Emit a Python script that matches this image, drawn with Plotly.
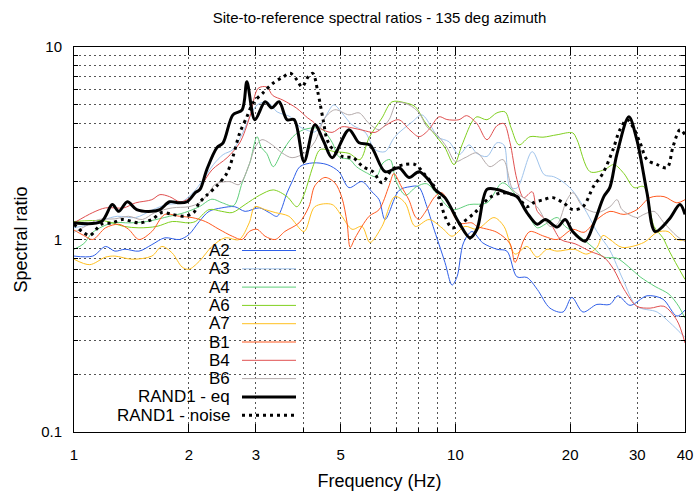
import plotly.graph_objects as go
import math

# ---------------- data (frequency in Hz, spectral ratio) ----------------
A2_f = [1.0,1.12,1.21,1.28,1.36,1.48,1.6,1.73,1.89,2.0,2.13,2.26,2.44,2.64,2.81,3.06,3.25,3.41,3.62,3.75,3.91,4.23,4.61,4.95,5.26,5.69,6.04,6.31,6.54,7.12,7.6,8.0,8.42,8.74,9.39,9.8,10.1,10.5,11.05,11.8,12.85,13.65,14.5,15.4,16.4,17.7,19.15,20.2,21.6,23.5,25.4,26.7,28.7,31.8,35.0,38.1,40]
A2_v = [0.82,0.82,0.92,0.87,0.89,0.87,0.94,1.02,1.0,1.06,1.24,1.40,1.46,1.48,1.40,1.46,1.38,1.32,1.75,2.04,2.39,2.5,2.45,2.25,1.86,2.0,1.77,1.61,1.27,1.8,1.88,1.88,1.48,1.17,0.76,0.58,0.64,0.96,1.1,0.96,0.89,0.87,0.64,0.635,0.55,0.44,0.42,0.50,0.42,0.46,0.46,0.51,0.455,0.51,0.49,0.40,0.43]

A3_f = [1.0,1.1,1.2,1.3,1.45,1.6,1.75,1.9,2.05,2.18,2.32,2.46,2.61,2.77,2.89,3.02,3.21,3.41,3.69,3.91,4.08,4.28,4.55,4.8,5.04,5.36,5.79,6.16,6.54,6.94,7.7,8.17,8.68,9.0,9.62,10.22,10.86,11.39,12.1,12.85,13.4,13.9,14.5,15.9,17.1,18.1,19.3,20.5,22.1,23.5,25.4,27.5,29.9,33.8,36.5,40]
A3_v = [1.15,1.2,1.27,1.32,1.3,1.42,1.52,1.55,1.75,2.04,2.45,2.76,2.93,3.58,4.34,5.0,5.19,4.6,4.34,3.85,3.7,3.62,4.3,5.0,4.55,3.94,3.62,2.93,2.86,3.42,4.08,4.44,3.8,3.4,3.22,2.76,3.1,2.8,2.7,3.18,3.1,1.88,1.85,2.86,2.17,2.12,1.97,1.75,1.38,1.1,0.88,0.62,0.45,0.42,0.37,0.31]

A4_f = [1.0,1.06,1.12,1.26,1.4,1.55,1.78,1.95,2.13,2.3,2.45,2.62,2.76,2.89,3.02,3.1,3.2,3.33,3.5,3.75,4.0,4.34,4.5,4.75,4.95,5.29,5.5,5.85,6.2,6.46,6.74,7.0,7.4,7.9,8.4,8.9,9.8,10.9,12.1,13.3,14.5,15.6,16.4,17.2,18.5,19.4,20.6,23.1,24.5,26.5,28.5,30.5,33.4,36.3,38.5,40]
A4_v = [0.89,0.95,1.09,1.22,1.22,1.24,1.32,1.38,1.48,1.62,1.55,1.5,1.97,2.5,3.42,3.0,2.8,2.39,2.82,3.42,3.72,3.8,3.7,3.2,2.69,2.6,2.39,2.22,2.12,2.5,2.6,2.0,1.7,1.88,1.95,1.75,1.43,1.52,1.55,1.97,1.67,1.32,1.15,1.2,1.3,1.17,1.08,0.9,0.81,0.8,0.72,0.64,0.57,0.52,0.45,0.39]

A6_f = [1.0,1.2,1.35,1.48,1.65,1.81,2.0,2.08,2.26,2.44,2.6,2.81,3.07,3.33,3.62,3.84,3.99,4.23,4.42,4.83,5.26,5.62,5.94,6.42,6.82,7.38,7.84,8.32,8.84,9.39,9.92,10.41,11.05,11.39,12.1,12.85,13.5,14.0,14.68,15.69,16.97,18.47,20.3,20.84,22.54,24.52,26.05,27.67,29.4,31.2,33.17,35.0,36.5,40]
A6_v = [1.24,1.25,1.17,1.15,1.17,1.24,1.22,1.24,1.43,1.40,1.38,1.52,1.7,1.81,1.67,1.48,1.67,2.39,2.93,2.86,2.8,2.6,3.38,4.28,5.19,5.13,4.9,4.08,3.5,3.0,2.45,3.1,4.08,4.34,4.19,4.55,4.6,3.8,3.1,3.42,3.4,3.5,3.58,3.3,2.25,2.3,2.45,2.2,1.86,1.88,1.17,1.02,0.86,0.62]

A7_f = [1.0,1.1,1.21,1.28,1.42,1.6,1.7,1.81,1.92,2.0,2.13,2.3,2.49,2.71,2.88,2.98,3.17,3.37,3.66,4.01,4.28,4.75,5.04,5.36,5.69,5.97,6.42,6.94,7.38,7.84,8.53,9.22,9.8,10.6,11.39,12.62,13.41,14.33,15.4,16.37,17.39,18.47,20.46,22.13,23.5,24.38,25.43,27.35,31.2,33.8,36.1,38.1,40]
A7_v = [0.79,0.74,0.81,0.82,0.79,0.82,0.92,0.85,0.72,0.70,0.77,0.92,1.02,1.0,1.22,1.48,1.43,1.38,1.32,1.1,1.48,1.52,1.32,1.13,1.17,0.965,1.17,1.67,1.55,1.17,1.27,1.15,1.04,1.17,1.13,1.3,1.17,0.84,0.92,0.81,0.89,0.87,0.89,0.84,0.91,1.05,1.0,0.91,0.965,1.09,1.1,1.0,0.99]

B1_f = [1.0,1.06,1.12,1.21,1.31,1.39,1.48,1.6,1.73,1.89,2.04,2.21,2.4,2.6,2.76,2.88,3.02,3.17,3.37,3.57,3.89,4.13,4.28,4.55,4.83,5.04,5.2,5.3,5.46,5.94,6.31,6.7,6.9,7.2,7.56,7.84,8.03,8.32,8.84,9.22,10.22,11.05,11.39,12.85,13.91,14.33,15.13,15.69,17.08,18.47,20.3,21.74,23.5,25.43,27.67,29.94,32.37,35.24,38.1,40]
B1_v = [1.12,1.05,1.0,1.15,1.2,1.13,1.0,1.1,1.35,1.32,1.30,1.24,1.13,1.04,1.0,1.1,1.13,1.04,1.0,1.1,1.22,1.48,1.9,2.1,1.97,1.65,1.22,0.91,1.02,1.32,1.43,1.9,2.2,1.9,1.6,1.32,1.27,1.38,1.67,1.75,1.22,1.22,1.17,1.09,0.95,0.76,1.0,1.1,1.04,1.0,1.13,1.09,1.27,1.4,1.35,1.43,1.65,1.67,1.55,1.61]

B4_f = [1.0,1.12,1.21,1.35,1.45,1.6,1.68,1.78,1.9,2.04,2.14,2.3,2.52,2.72,2.89,3.04,3.2,3.32,3.53,3.84,4.1,4.23,4.4,4.75,5.04,5.36,5.7,6.16,6.54,7.1,7.6,8.03,8.5,9.06,9.5,10.22,10.7,11.39,12.1,12.85,13.4,13.9,14.5,15.1,15.9,16.4,17.8,18.9,20.6,22.5,24.5,26.0,27.7,29.9,32.4,35.2,38.1,40]
B4_v = [1.22,1.38,1.46,1.46,1.55,1.61,1.71,1.67,1.57,1.67,1.86,2.3,2.66,3.18,4.34,6.1,6.2,5.6,5.3,4.8,4.28,4.1,3.8,3.6,3.85,3.8,3.7,3.6,3.9,4.19,3.7,3.42,3.7,4.34,4.2,4.19,4.4,4.0,3.3,3.9,4.0,3.2,2.05,1.65,1.77,1.4,1.2,1.0,0.95,0.87,0.81,0.7,0.55,0.45,0.44,0.45,0.38,0.29]

B6_f = [1.0,1.07,1.16,1.28,1.39,1.51,1.63,1.81,2.0,2.13,2.26,2.34,2.55,2.71,2.88,2.98,3.11,3.31,3.51,3.73,4.03,4.28,4.55,4.83,5.26,5.59,5.94,6.31,6.7,7.03,7.56,8.03,8.42,8.95,9.51,10.0,10.6,11.39,12.32,13.33,14.16,15.4,16.37,17.7,18.5,19.62,20.34,21.6,23.5,25.43,26.53,27.35,29.94,31.2,33.17,35.24,38.1,40]
B6_v = [1.09,1.17,1.27,1.28,1.32,1.27,1.38,1.46,1.48,1.55,1.75,1.93,2.0,1.93,2.45,3.0,3.3,3.1,2.82,2.66,2.82,3.22,4.28,4.72,4.44,4.55,4.0,3.72,4.19,5.13,5.0,4.55,3.85,3.5,3.0,2.54,2.66,2.82,2.39,2.6,1.81,1.61,1.48,1.17,1.2,1.61,1.75,1.48,1.38,1.48,1.61,1.43,1.3,1.35,1.4,1.22,1.04,0.976]

EQ_f = [1.0,1.18,1.26,1.31,1.38,1.46,1.6,1.68,1.78,1.89,1.98,2.08,2.14,2.23,2.37,2.46,2.61,2.76,2.84,2.98,3.17,3.3,3.45,3.62,3.78,4.01,4.28,4.52,4.75,5.26,5.59,5.97,6.54,7.12,7.56,8.03,8.58,8.84,9.39,10.22,10.92,11.39,12.1,12.85,13.65,14.5,15.4,16.4,17.2,18.5,19.4,20.3,21.9,23.1,24.5,25.4,26.5,28.5,29.9,31.8,33.4,36.3,38.8,40]
EQ_v = [1.22,1.24,1.52,1.40,1.57,1.43,1.40,1.43,1.57,1.55,1.57,1.75,1.82,2.31,3.0,3.18,4.44,4.72,6.59,4.19,5.19,4.83,5.19,4.19,4.19,2.54,3.94,3.22,2.66,3.72,3.18,3.10,2.25,2.36,2.10,2.25,2.0,1.82,1.65,1.22,1.02,1.13,1.82,1.82,1.75,1.67,1.38,1.20,1.27,1.16,1.27,1.10,0.98,1.22,1.67,1.86,2.76,4.34,3.3,1.75,1.10,1.27,1.52,1.35]

NZ_f = [1.0,1.05,1.1,1.18,1.26,1.34,1.48,1.6,1.7,1.81,1.95,2.06,2.13,2.23,2.37,2.52,2.61,2.72,2.84,2.95,3.13,3.33,3.53,3.69,3.84,3.96,4.11,4.23,4.36,4.5,4.61,4.78,5.07,5.39,5.72,6.08,6.42,6.82,7.33,7.84,8.32,8.84,9.06,9.39,9.8,10.4,11.25,12.3,13.3,14.5,15.4,16.0,17.0,18.0,19.2,20.3,21.6,23.0,24.4,25.9,27.0,28.2,29.2,30.5,31.8,33.8,35.9,37.2,38.8,40]
NZ_v = [1.2,1.10,1.05,1.2,1.22,1.27,1.22,1.27,1.38,1.35,1.32,1.38,1.55,1.7,1.9,2.22,2.69,3.58,4.34,5.13,5.78,6.5,6.98,7.3,6.75,6.2,6.98,7.3,5.8,4.19,3.3,2.93,2.69,2.66,2.39,2.25,1.97,2.31,2.45,2.45,2.17,1.86,1.67,1.32,1.15,1.22,1.38,1.65,1.75,1.67,1.48,1.55,1.61,1.65,1.55,1.43,1.48,1.88,2.22,2.93,3.72,4.19,3.85,3.18,2.6,2.45,2.36,3.03,3.72,3.5]

LABELS = ["A2", "A3", "A4", "A6", "A7", "B1", "B4", "B6", "RAND1 - eq", "RAND1 - noise"]
X_TICKS = [1, 2, 3, 5, 10, 20, 30, 40]
X_MINOR = [4, 6, 7, 8, 9]
Y_TICKS = [0.1, 1, 10]
Y_MINOR = [0.2, 0.3, 0.4, 0.5, 0.6, 0.7, 0.8, 0.9, 2, 3, 4, 5, 6, 7, 8, 9]

# ---------------- styling ----------------
FONT = "Liberation Sans"
COLORS = ["#2f5fe8", "#a0c4ec", "#5fcf7a", "#80d020", "#ffc020",
          "#ff5a20", "#e05050", "#b4aaaa", "black", "black"]
WIDTHS = [1, 1, 1, 1, 1, 1, 1, 1, 3, 3]
DASHES = ["solid"] * 9 + ["3px,4px"]

series = [(A2_f, A2_v), (A3_f, A3_v), (A4_f, A4_v), (A6_f, A6_v), (A7_f, A7_v),
          (B1_f, B1_v), (B4_f, B4_v), (B6_f, B6_v), (EQ_f, EQ_v), (NZ_f, NZ_v)]

fig = go.Figure()
for (fx, vy), name, c, w, d in zip(series, LABELS, COLORS, WIDTHS, DASHES):
    fig.add_trace(go.Scatter(
        x=fx, y=vy, mode="lines", name=name, showlegend=False,
        line=dict(color=c, width=w, dash=d, shape="spline", smoothing=0.9),
        hoverinfo="skip"))

# plot area in pixels
L, R, T, B = 74, 685, 47, 432
W, H = 699, 492
pw, ph = R - L, B - T

def px2paper_x(px):
    return (px - L) / pw

def py2paper_y(py):
    return (B - py) / ph

shapes = []
annotations = []
# gnuplot-style key: grid is not drawn inside the key box
shapes.append(dict(type="rect", xref="paper", yref="paper",
                   x0=0, x1=px2paper_x(301), y0=0, y1=py2paper_y(234),
                   fillcolor="white", line=dict(width=0), layer="between"))
row0, dy = 250.5, 18.3
for i, (name, c, w, d) in enumerate(zip(LABELS, COLORS, WIDTHS, DASHES)):
    yy = py2paper_y(row0 + i * dy)
    annotations.append(dict(text=name, xref="paper", yref="paper",
                            x=px2paper_x(231), y=yy, xanchor="right", yanchor="middle",
                            borderpad=0,
                            showarrow=False, font=dict(family=FONT, size=17, color="black")))
    shapes.append(dict(type="line", xref="paper", yref="paper",
                       x0=px2paper_x(242), x1=px2paper_x(296), y0=yy, y1=yy,
                       line=dict(color=c, width=w, dash=d), layer="above"))

grid = dict(showgrid=True, gridcolor="#555555", gridwidth=1, griddash="2px,3px")
axis_common = dict(ticks="inside", ticklen=8, tickwidth=1, tickcolor="black",
                   showline=True, linecolor="black", linewidth=1, mirror="allticks",
                   zeroline=False, automargin=False,
                   tickfont=dict(family=FONT, size=15, color="black"),
                   **grid)

fig.update_layout(
    width=W, height=H,
    margin=dict(l=L, r=W - R, t=T, b=H - B, autoexpand=False),
    paper_bgcolor="white", plot_bgcolor="white",
    title=dict(text="Site-to-reference spectral ratios - 135 deg azimuth",
               x=0.5, xref="paper", y=1 - 18 / H, yanchor="middle",
               font=dict(family=FONT, size=15, color="black")),
    xaxis=dict(type="log", range=[0, math.log10(40)], tickmode="array",
               tickvals=X_TICKS, ticktext=[str(v) for v in X_TICKS],
               ticklabelstandoff=9,
               minor=dict(tickmode="array", tickvals=X_MINOR, ticks="inside", ticklen=4,
                          tickcolor="black", **grid),
               title=dict(text="Frequency (Hz)", standoff=12,
                          font=dict(family=FONT, size=18, color="black")),
               **axis_common),
    yaxis=dict(type="log", range=[-1, 1], tickmode="array",
               tickvals=Y_TICKS, ticktext=["0.1", "1", "10"],
               ticklabelstandoff=8,
               minor=dict(tickmode="array", tickvals=Y_MINOR, ticks="inside", ticklen=4,
                          tickcolor="black", **grid),
               title=dict(text="Spectral ratio", standoff=8,
                          font=dict(family=FONT, size=18, color="black")),
               **axis_common),
    shapes=shapes, annotations=annotations,
)

fig.write_html("out.html")
